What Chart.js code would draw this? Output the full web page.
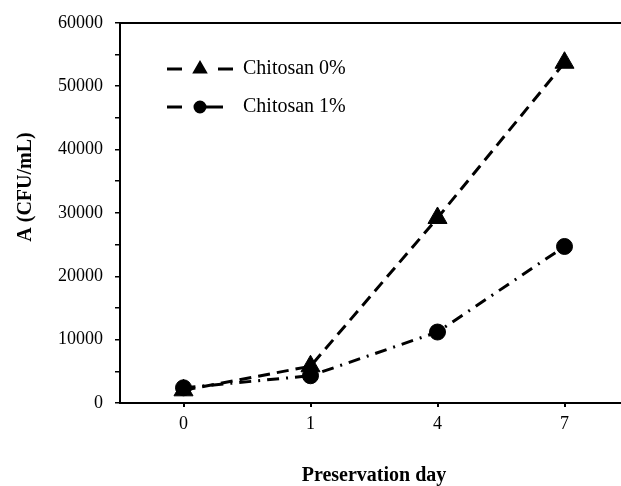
<!DOCTYPE html>
<html>
<head>
  <meta charset="UTF-8">
  <title>Chitosan</title>
  <script src="https://cdn.jsdelivr.net/npm/chart.js"></script>
  <style>
    html, body { margin: 0; padding: 0; background: #fff; overflow: hidden; }
    #wrap { width: 621px; height: 486px; overflow: hidden; }
  </style>
</head>
<body>
  <div id="wrap"><canvas id="myChart" width="640" height="486"></canvas></div>

  <script>
    const days = ['0', '1', '4', '7'];
    const chitosan0 = [2000, 5800, 29200, 53700];
    const chitosan1 = [2400, 4300, 11200, 24700];
    const seriesNames = ['Chitosan 0%', 'Chitosan 1%'];
    const yTitle = 'A (CFU/mL)';
    const xTitle = 'Preservation day';

    const serif = 'Liberation Serif, Times New Roman, serif';

    // legend drawn inside the plot, top-left
    const legendPlugin = {
      id: 'innerLegend',
      afterDraw(chart) {
        const ctx = chart.ctx;
        const rows = [
          { y: 69, segs: [[167, 182], [218, 233]], style: 'triangle', r: 6 },
          { y: 107, segs: [[167, 182], [203, 223]], style: 'circle', r: 5 }
        ];
        ctx.save();
        rows.forEach((row, i) => {
          ctx.strokeStyle = '#000';
          ctx.lineWidth = 3;
          ctx.setLineDash([]);
          row.segs.forEach(s => {
            ctx.beginPath();
            ctx.moveTo(s[0], row.y);
            ctx.lineTo(s[1], row.y);
            ctx.stroke();
          });
          ctx.fillStyle = '#000';
          Chart.helpers.drawPoint(ctx, { pointStyle: row.style, radius: row.r, borderWidth: 1 }, 200, row.y);
          ctx.fill();
          ctx.font = '20px ' + serif;
          ctx.textBaseline = 'middle';
          ctx.textAlign = 'left';
          ctx.fillText(seriesNames[i], 243, row.y);
        });
        // y axis title, rotated
        ctx.translate(26, 187);
        ctx.rotate(-Math.PI / 2);
        ctx.font = 'bold 20px ' + serif;
        ctx.textAlign = 'center';
        ctx.textBaseline = 'middle';
        ctx.fillText(yTitle, 0, 0);
        ctx.restore();
      }
    };

    new Chart(document.getElementById('myChart'), {
      type: 'line',
      data: {
        labels: days,
        datasets: [
          {
            label: seriesNames[0],
            data: chitosan0,
            borderColor: '#000',
            backgroundColor: '#000',
            borderWidth: 3,
            borderDash: [12, 7],
            pointStyle: 'triangle',
            pointRadius: 11,
            pointBorderWidth: 1,
            order: 2
          },
          {
            label: seriesNames[1],
            data: chitosan1,
            borderColor: '#000',
            backgroundColor: '#000',
            borderWidth: 3,
            borderDash: [12, 7, 2, 7],
            pointStyle: 'circle',
            pointRadius: 8,
            pointBorderWidth: 1,
            order: 1
          }
        ]
      },
      options: {
        responsive: false,
        animation: false,
        layout: { padding: { top: 18, right: 9, left: 0, bottom: 0 } },
        plugins: { legend: { display: false }, tooltip: { enabled: false } },
        scales: {
          x: {
            offset: true,
            grid: { display: true, drawOnChartArea: false, drawTicks: true, tickLength: 4, color: '#000', lineWidth: 2 },
            border: { display: true, color: '#000', width: 2 },
            ticks: { color: '#000', font: { family: serif, size: 18 }, padding: 6, autoSkip: false, maxRotation: 0 },
            title: { display: true, text: xTitle, color: '#000', font: { family: serif, size: 20, weight: 'bold', lineHeight: 1 }, padding: 0 },
            afterFit(scale) { scale.height = 83; }
          },
          xTop: {
            position: 'top',
            grid: { display: false, drawTicks: false },
            border: { display: true, color: '#000', width: 2 },
            ticks: { display: false },
            afterFit(scale) { scale.height = 0; }
          },
          y: {
            min: 0,
            max: 60000,
            grid: { display: true, drawOnChartArea: false, drawTicks: true, tickLength: 5, color: '#000', lineWidth: 1.5 },
            border: { display: true, color: '#000', width: 2 },
            ticks: {
              stepSize: 5000,
              autoSkip: false,
              color: '#000',
              font: { family: serif, size: 18 },
              padding: 12,
              callback: v => (v % 10000 === 0 ? String(v) : '')
            },
            afterFit(scale) { scale.width = 120; }
          }
        }
      },
      plugins: [legendPlugin]
    });
  </script>
</body>
</html>
